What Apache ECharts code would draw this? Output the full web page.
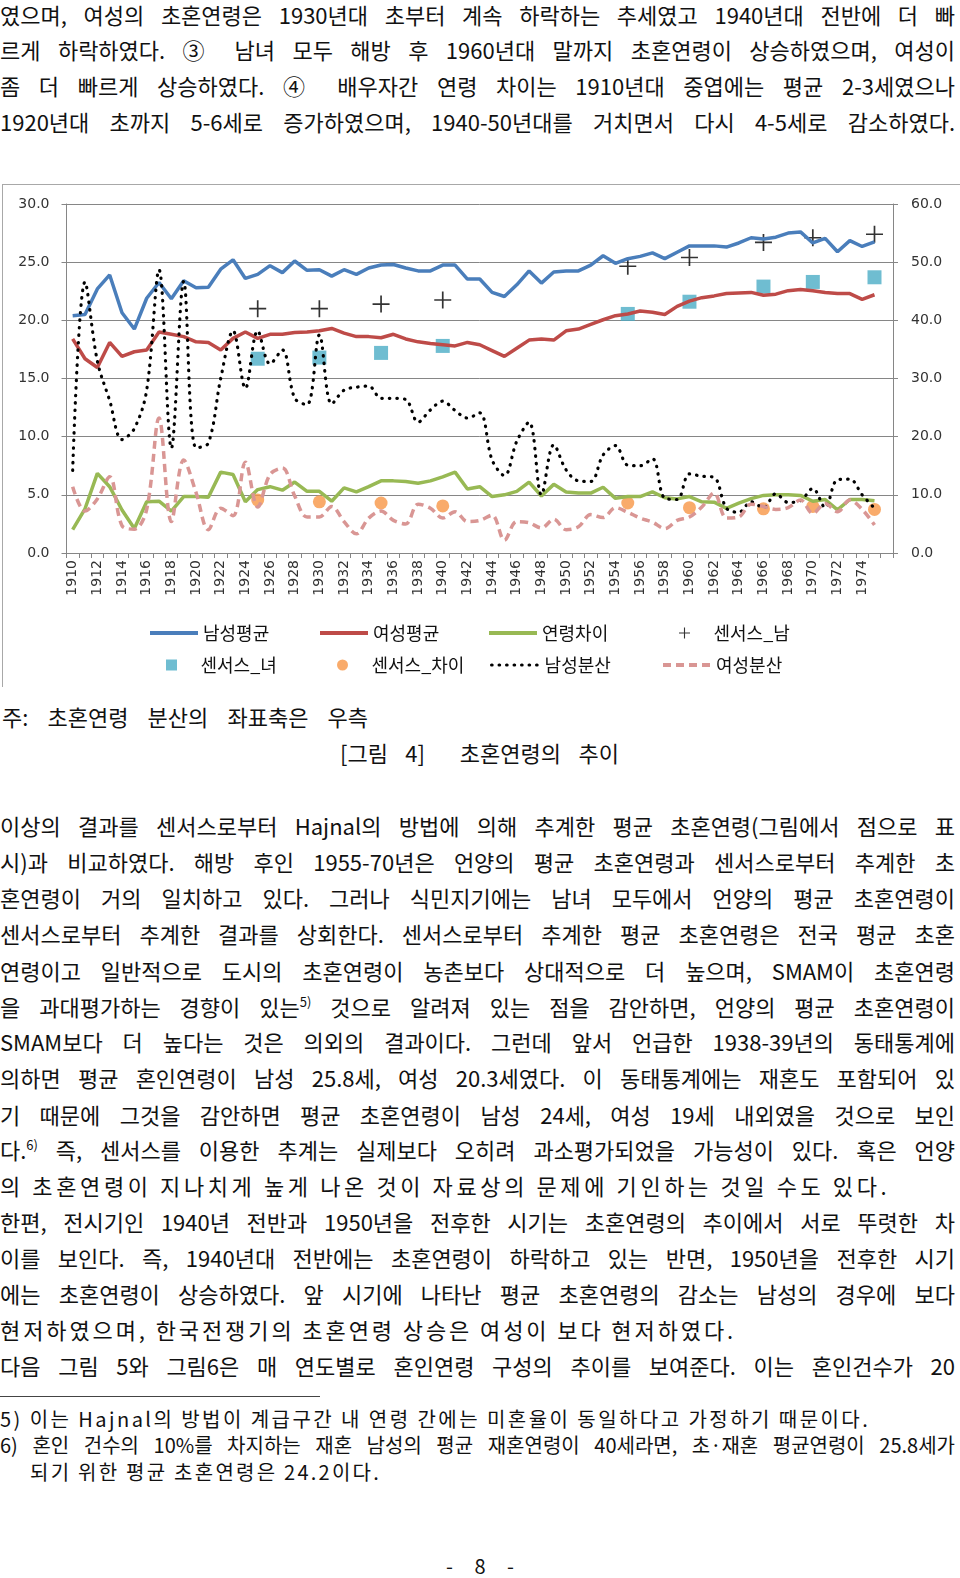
<!DOCTYPE html>
<html><head><meta charset="utf-8">
<script src="https://cdn.jsdelivr.net/npm/echarts/dist/echarts.min.js"></script>
<style>
html,body{margin:0;padding:0;background:#fff;}
body{width:960px;height:1578px;position:relative;overflow:hidden;font-family:"Noto Sans CJK KR","Noto Sans",sans-serif;color:#111;}
.ln{position:absolute;left:0;width:955px;font-size:22px;line-height:30px;white-space:nowrap;}
.j{text-align:justify;text-align-last:justify;white-space:normal;}
.fn{font-size:20px;line-height:26px;}
sup{font-size:13px;line-height:0;vertical-align:9px;}
#frameTop{position:absolute;left:2px;top:184px;width:958px;height:0;border-top:1px solid #a8a8a8;}
#frameLeft{position:absolute;left:2px;top:184px;width:0;height:503px;border-left:1px solid #a8a8a8;}
#chart{position:absolute;left:0;top:184px;width:960px;height:503px;}
#rule{position:absolute;left:0;top:1396px;width:320px;height:0;border-top:1px solid #444;}
</style>
</head>
<body>
<div class="ln j" style="top:-1px">였으며, 여성의 초혼연령은 1930년대 초부터 계속 하락하는 추세였고 1940년대 전반에 더 빠</div>
<div class="ln j" style="top:34px">르게 하락하였다. ③ 남녀 모두 해방 후 1960년대 말까지 초혼연령이 상승하였으며, 여성이</div>
<div class="ln j" style="top:70px">좀 더 빠르게 상승하였다. ④ 배우자간 연령 차이는 1910년대 중엽에는 평균 2-3세였으나</div>
<div class="ln j" style="top:106px">1920년대 초까지 5-6세로 증가하였으며, 1940-50년대를 거치면서 다시 4-5세로 감소하였다.</div>

<div id="frameTop"></div>
<div id="frameLeft"></div>
<div id="chart"></div>

<div class="ln j" style="top:701px;left:2px;width:366px">주: 초혼연령 분산의 좌표축은 우측</div>
<div class="ln j" style="top:737px;left:340px;width:279px">[그림 4] &nbsp;초혼연령의 추이</div>

<div class="ln j" style="top:810px">이상의 결과를 센서스로부터 Hajnal의 방법에 의해 추계한 평균 초혼연령(그림에서 점으로 표</div>
<div class="ln j" style="top:846px">시)과 비교하였다. 해방 후인 1955-70년은 언양의 평균 초혼연령과 센서스로부터 추계한 초</div>
<div class="ln j" style="top:882px">혼연령이 거의 일치하고 있다. 그러나 식민지기에는 남녀 모두에서 언양의 평균 초혼연령이</div>
<div class="ln j" style="top:918px">센서스로부터 추계한 결과를 상회한다. 센서스로부터 추계한 평균 초혼연령은 전국 평균 초혼</div>
<div class="ln j" style="top:955px">연령이고 일반적으로 도시의 초혼연령이 농촌보다 상대적으로 더 높으며, SMAM이 초혼연령</div>
<div class="ln j" style="top:991px">을 과대평가하는 경향이 있는<sup>5)</sup> 것으로 알려져 있는 점을 감안하면, 언양의 평균 초혼연령이</div>
<div class="ln j" style="top:1026px">SMAM보다 더 높다는 것은 의외의 결과이다. 그런데 앞서 언급한 1938-39년의 동태통계에</div>
<div class="ln j" style="top:1062px">의하면 평균 혼인연령이 남성 25.8세, 여성 20.3세였다. 이 동태통계에는 재혼도 포함되어 있</div>
<div class="ln j" style="top:1099px">기 때문에 그것을 감안하면 평균 초혼연령이 남성 24세, 여성 19세 내외였을 것으로 보인</div>
<div class="ln j" style="top:1134px">다.<sup>6)</sup> 즉, 센서스를 이용한 추계는 실제보다 오히려 과소평가되었을 가능성이 있다. 혹은 언양</div>
<div class="ln" style="top:1170px;letter-spacing:3.6px">의 초혼연령이 지나치게 높게 나온 것이 자료상의 문제에 기인하는 것일 수도 있다.</div>
<div class="ln j" style="top:1206px">한편, 전시기인 1940년 전반과 1950년을 전후한 시기는 초혼연령의 추이에서 서로 뚜렷한 차</div>
<div class="ln j" style="top:1242px">이를 보인다. 즉, 1940년대 전반에는 초혼연령이 하락하고 있는 반면, 1950년을 전후한 시기</div>
<div class="ln j" style="top:1278px">에는 초혼연령이 상승하였다. 앞 시기에 나타난 평균 초혼연령의 감소는 남성의 경우에 보다</div>
<div class="ln" style="top:1314px;letter-spacing:2.9px">현저하였으며, 한국전쟁기의 초혼연령 상승은 여성이 보다 현저하였다.</div>
<div class="ln j" style="top:1350px">다음 그림 5와 그림6은 매 연도별로 혼인연령 구성의 추이를 보여준다. 이는 혼인건수가 20</div>

<div id="rule"></div>
<div class="ln fn" style="top:1406px;letter-spacing:2.45px">5) 이는 Hajnal의 방법이 계급구간 내 연령 간에는 미혼율이 동일하다고 가정하기 때문이다.</div>
<div class="ln fn j" style="top:1432px">6) 혼인 건수의 10%를 차지하는 재혼 남성의 평균 재혼연령이 40세라면, 초·재혼 평균연령이 25.8세가</div>
<div class="ln fn" style="top:1459px;left:30px;width:420px;letter-spacing:2.25px">되기 위한 평균 초혼연령은 24.2이다.</div>

<div class="ln" style="top:1551px;left:446px;width:68px;font-size:20px;text-align:justify;text-align-last:justify;">- 8 -</div>

<script>
// ---------- data ----------
const years = ['1910','1911','1912','1913','1914','1915','1916','1917','1918','1919',
  '1920','1921','1922','1923','1924','1925','1926','1927','1928','1929',
  '1930','1931','1932','1933','1934','1935','1936','1937','1938','1939',
  '1940','1941','1942','1943','1944','1945','1946','1947','1948','1949',
  '1950','1951','1952','1953','1954','1955','1956','1957','1958','1959',
  '1960','1961','1962','1963','1964','1965','1966','1967','1968','1969',
  '1970','1971','1972','1973','1974','1975',''];

const maleMean = [20.4,20.5,22.7,23.9,20.65,19.25,21.9,23.25,21.85,23.4,
  22.8,22.85,24.4,25.2,23.6,23.95,24.7,24.1,25.1,24.3,
  24.35,23.8,24.35,23.95,24.5,24.75,24.8,24.5,24.25,24.25,
  24.75,24.75,23.55,23.55,22.4,22.05,23.05,24.25,23.2,24.15,
  24.25,24.25,24.75,25.55,24.9,25.3,25.5,25.8,25.3,25.85,
  26.4,26.4,26.4,26.3,26.65,27.1,27.0,27.15,27.5,27.6,
  26.65,27.05,25.9,26.85,26.35,26.75];

const femaleMean = [18.4,16.7,15.95,18.1,16.9,17.3,17.45,19.0,18.8,18.6,
  18.15,18.1,17.45,18.45,19.0,18.45,18.8,18.8,18.95,19.0,
  19.1,19.3,18.9,18.6,18.6,18.5,18.8,18.4,18.15,18.0,
  17.9,17.8,18.1,17.9,17.4,16.9,17.6,18.3,18.4,18.3,
  19.1,19.25,19.65,20.05,20.4,20.55,20.8,20.7,20.5,21.2,
  21.65,21.95,22.1,22.3,22.35,22.4,22.15,22.25,22.55,22.65,
  22.55,22.4,22.3,22.3,21.8,22.2];

const ageGap = [2.0,3.8,6.85,5.7,3.7,2.1,4.4,4.45,3.6,4.85,
  4.85,4.8,6.95,6.75,4.4,5.45,5.7,5.4,6.1,5.3,
  5.3,4.45,5.6,5.25,5.7,6.2,6.2,6.15,6.0,6.2,
  6.55,6.95,5.5,5.7,4.85,5.0,5.3,6.1,4.9,5.9,
  5.25,5.15,5.15,5.65,4.7,4.85,4.85,5.25,4.75,4.65,
  4.85,4.4,4.37,3.84,4.28,4.67,4.95,5.0,5.0,4.95,
  4.45,4.6,3.7,4.6,4.6,4.5];

const maleVar = [14.2,46.6,33.0,26.2,19.5,21.4,28.0,48.7,18.0,46.7,
  18.1,18.9,30.0,38.2,28.3,38.2,32.5,34.9,26.6,25.5,
  37.5,25.6,28.0,28.5,28.7,26.6,26.6,26.4,22.5,24.6,
  26.1,24.5,23.2,24.1,16.0,13.3,19.2,22.5,10.0,18.6,
  14.3,12.4,12.3,16.85,18.45,15.1,15.0,16.2,9.4,9.2,
  13.6,13.2,13.0,7.7,7.0,8.8,7.8,10.2,8.7,9.0,
  11.1,7.8,12.6,12.7,10.0,7.7];

const femaleVar = [11.4,7.2,9.3,13.1,4.7,4.1,7.5,23.2,5.4,16.0,
  10.4,4.0,7.7,6.4,15.6,7.9,13.5,14.6,9.8,6.2,
  6.2,8.0,5.4,3.3,6.0,7.2,5.6,5.0,8.4,7.7,
  6.0,7.1,5.4,5.6,6.5,2.2,5.4,5.2,4.3,5.8,
  4.0,4.5,6.6,6.1,7.8,7.0,6.0,5.3,4.2,5.6,
  6.2,7.9,10.3,6.0,6.2,8.4,8.0,7.5,7.8,9.1,
  6.8,8.5,7.1,9.1,7.5,4.8];

const censusYears = ['1925','1930','1935','1940','1955','1960','1966','1970','1975'];
const censusMale = [21.0,21.0,21.4,21.75,24.65,25.4,26.7,27.1,27.4];
const censusFemale = [16.7,16.8,17.2,17.8,20.55,21.6,22.9,23.3,23.7];
const censusGap = [4.55,4.4,4.3,4.05,4.3,3.9,3.8,4.0,3.75];

const leftTickLabels = ['0.0','5.0','10.0','15.0','20.0','25.0','30.0'];
const rightTickLabels = ['0.0','10.0','20.0','30.0','40.0','50.0','60.0'];

const seriesNames = ['남성평균','여성평균','연령차이','센서스_남','센서스_녀','센서스_차이','남성분산','여성분산'];

// ---------- chart ----------
const pair = (ys, vs) => ys.map((y, i) => [y, vs[i]]);
const plusPath = 'path://M9,0h2v20h-2zM0,9h20v2h-20z';
const squarePath = 'path://M0,0h10v10h-10z';
const axisGray = '#868686';
const labelFont = 'DejaVu Sans';

const row1 = 440, row2 = 472;
// [left, top, isMarker]
const legendSlots = [[148,row1,0],[318,row1,0],[487,row1,0],[679,row1,1],[166,row2,1],[337,row2,1],[490,row2,0],[661,row2,0]];
const legends = seriesNames.map((n, i) => {
  const marker = legendSlots[i][2] === 1;
  const l = {
    data: [n], left: legendSlots[i][0], top: legendSlots[i][1], padding: 0,
    itemWidth: 48, itemHeight: marker ? 11 : 14,
    symbolKeepAspect: true,
    selectedMode: false,
    textStyle: {fontFamily: 'Noto Sans CJK KR', fontSize: 18, color: '#111'}
  };
  if (!marker) {
    l.itemStyle = {opacity: 0};
    l.lineStyle = {width: (i === 6) ? 3.2 : 4};
  }
  return l;
});

const chart = echarts.init(document.getElementById('chart'), null, {renderer: 'canvas'});
chart.setOption({
  animation: false,
  backgroundColor: 'transparent',
  legend: legends,
  grid: {left: 66.5, right: 67, top: 20, bottom: 134, containLabel: false, outerBoundsMode: 'none'},
  xAxis: {
    type: 'category', data: years, boundaryGap: true,
    axisLine: {show: true, lineStyle: {color: axisGray, width: 1}},
    axisTick: {show: true, interval: 0, length: 5, lineStyle: {color: axisGray}},
    axisLabel: {interval: 1, rotate: 90, fontSize: 14, fontFamily: labelFont, color: '#333', margin: 7, hideOverlap: false},
    splitLine: {show: false}
  },
  yAxis: [{
    type: 'value', min: 0, max: 30, interval: 5, position: 'left',
    axisLine: {show: true, lineStyle: {color: axisGray}},
    axisTick: {show: true, length: 5, lineStyle: {color: axisGray}},
    axisLabel: {formatter: v => leftTickLabels[Math.round(v / 5)], fontSize: 14, fontFamily: labelFont, color: '#333', margin: 17},
    splitLine: {show: true, lineStyle: {color: axisGray, width: 1}}
  }, {
    type: 'value', min: 0, max: 60, interval: 10, position: 'right',
    axisLine: {show: true, lineStyle: {color: axisGray}},
    axisTick: {show: true, length: 5, lineStyle: {color: axisGray}},
    axisLabel: {formatter: v => rightTickLabels[Math.round(v / 10)], fontSize: 14, fontFamily: labelFont, color: '#333', margin: 18},
    splitLine: {show: false}
  }],
  series: [
    {name: seriesNames[0], type: 'line', data: maleMean, symbol: 'none', color: '#4A7EBB',
     lineStyle: {width: 3.5, color: '#4A7EBB'}},
    {name: seriesNames[1], type: 'line', data: femaleMean, symbol: 'none', color: '#BE4B48',
     lineStyle: {width: 3.5, color: '#BE4B48'}},
    {name: seriesNames[2], type: 'line', data: ageGap, symbol: 'none', color: '#98B954',
     lineStyle: {width: 3.5, color: '#98B954'}},
    {name: seriesNames[3], type: 'scatter', data: pair(censusYears, censusMale), symbol: plusPath, symbolSize: 17,
     itemStyle: {color: '#000'}},
    {name: seriesNames[4], type: 'scatter', data: pair(censusYears, censusFemale), symbol: squarePath, symbolSize: 14,
     symbolKeepAspect: true, itemStyle: {color: '#4BACC6'}},
    {name: seriesNames[5], type: 'scatter', data: pair(censusYears, censusGap), symbol: 'circle', symbolSize: 13,
     itemStyle: {color: '#F79646'}},
    {name: seriesNames[6], type: 'line', yAxisIndex: 1, data: maleVar, symbol: 'none', smooth: 0.35, color: '#000',
     lineStyle: {width: 3.2, color: '#000', type: [0.5, 7], cap: 'round'}},
    {name: seriesNames[7], type: 'line', yAxisIndex: 1, data: femaleVar, symbol: 'none', smooth: 0.35, color: '#D99694',
     lineStyle: {width: 3.5, color: '#D99694', type: [8, 5], cap: 'butt'}}
  ]
});
</script>
</body></html>
